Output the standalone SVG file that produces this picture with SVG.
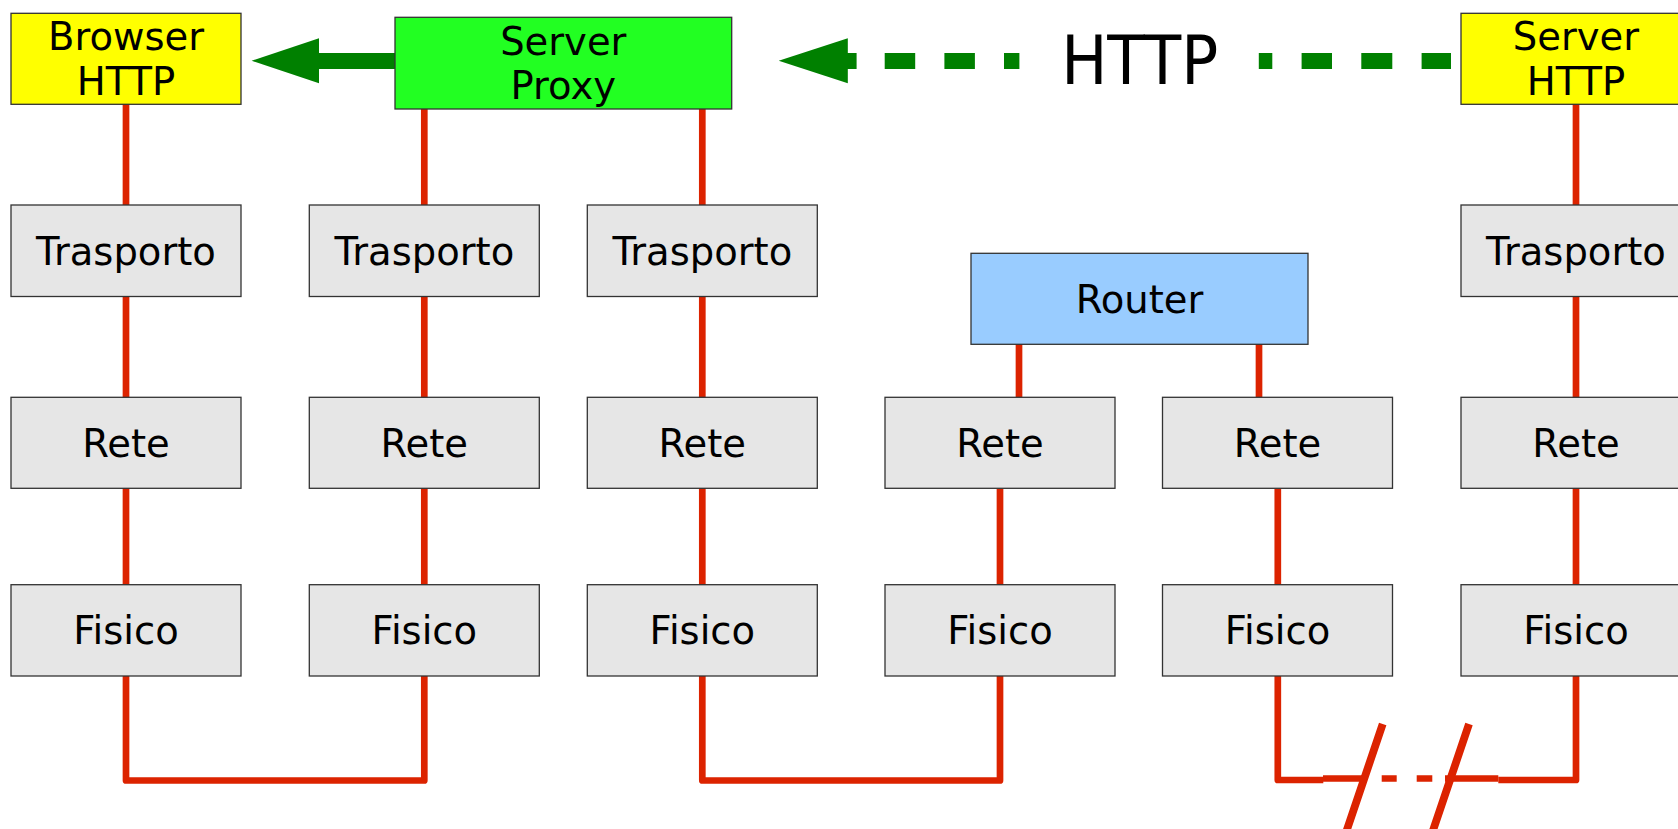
<svg xmlns="http://www.w3.org/2000/svg" width="1678" height="829" viewBox="0 0 1678 829">
<style>
  .box { stroke: #333333; stroke-width: 1.3; }
  .layer { fill: #e6e6e6; }
  .app { fill: #ffff00; }
  .proxy { fill: #22ff22; }
  .router { fill: #99ccff; }
  .lbl { font-family: "DejaVu Sans", "Liberation Sans", sans-serif; font-size: 38.5px; text-anchor: middle; fill: #000000; }
  .wire { fill: none; stroke: #dc2300; stroke-width: 6.7; stroke-linejoin: round; stroke-linecap: butt; }
  .brk { fill: none; stroke: #dc2300; stroke-width: 6.3; stroke-linecap: butt; }
  .slash { fill: none; stroke: #dc2300; stroke-width: 7.8; stroke-linecap: butt; }
  .green { fill: #008000; }
</style>
<rect x="0" y="0" width="1678" height="829" fill="#ffffff"/>

<g id="connectors">
  <path class="wire" d="M126 104 V780.5 H424.3 V109"/>
  <path class="wire" d="M702.3 109 V780.5 H1000 V489"/>
  <path class="wire" d="M1019 344 V397"/>
  <path class="wire" d="M1259 344 V397"/>
  <path class="wire" d="M1323.3 780 H1277.8 V489"/>
  <path class="wire" d="M1498.3 780 H1576 V104"/>
  <path class="brk" d="M1323 778.5 H1363 M1381.7 778.5 H1396.7 M1416.7 778.5 H1432.3 M1445 778.5 H1498.3"/>
  <path class="slash" d="M1382.7 724 L1345.5 834 M1469 724 L1431.8 834"/>
  <!-- solid green arrow: proxy to browser -->
  <rect class="green" x="318" y="53" width="78" height="16"/>
  <polygon class="green" points="251.6,60.7 319,38.3 319,83.3"/>
  <!-- dashed green arrow: server to proxy -->
  <path d="M1451 61 H1421.6 M1392.3 61 H1361.3 M1332 61 H1301.6 M1272.3 61 H1258.8 M1019.4 61 H1004 M974.9 61 H944.4 M915.2 61 H884.7 M856.6 61 H845" fill="none" stroke="#008000" stroke-width="16"/>
  <polygon class="green" points="778.7,60.7 847.8,38.3 847.8,83.3"/>
  <text x="1139.7" y="84" font-family="DejaVu Sans, Liberation Sans, sans-serif" font-size="67" text-anchor="middle" textLength="157" lengthAdjust="spacingAndGlyphs" fill="#000000">HTTP</text>
</g>

<g id="browser">
  <rect class="box app" x="11" y="13.3" width="230" height="91"/>
  <text class="lbl" x="126" y="50">Browser</text>
  <text class="lbl" x="126" y="94.8">HTTP</text>
</g>
<g id="proxy">
  <rect class="box proxy" x="395" y="17.3" width="336.7" height="91.7"/>
  <text class="lbl" x="563.3" y="55">Server</text>
  <text class="lbl" x="563.3" y="99">Proxy</text>
</g>
<g id="server">
  <rect class="box app" x="1461" y="13.3" width="230" height="91"/>
  <text class="lbl" x="1576" y="50">Server</text>
  <text class="lbl" x="1576" y="94.8">HTTP</text>
</g>
<g id="router">
  <rect class="box router" x="971" y="253.3" width="337" height="91"/>
  <text class="lbl" x="1139.5" y="312.5">Router</text>
</g>

<g id="trasporto1"><rect class="box layer" x="11" y="205" width="230" height="91.5"/><text class="lbl" x="126" y="264.8">Trasporto</text></g>
<g id="trasporto2"><rect class="box layer" x="309.3" y="205" width="230" height="91.5"/><text class="lbl" x="424.3" y="264.8">Trasporto</text></g>
<g id="trasporto3"><rect class="box layer" x="587.3" y="205" width="230" height="91.5"/><text class="lbl" x="702.3" y="264.8">Trasporto</text></g>
<g id="trasporto6"><rect class="box layer" x="1461" y="205" width="230" height="91.5"/><text class="lbl" x="1576" y="264.8">Trasporto</text></g>

<g id="rete1"><rect class="box layer" x="11" y="397.3" width="230" height="91"/><text class="lbl" x="126" y="456.8">Rete</text></g>
<g id="rete2"><rect class="box layer" x="309.3" y="397.3" width="230" height="91"/><text class="lbl" x="424.3" y="456.8">Rete</text></g>
<g id="rete3"><rect class="box layer" x="587.3" y="397.3" width="230" height="91"/><text class="lbl" x="702.3" y="456.8">Rete</text></g>
<g id="rete4"><rect class="box layer" x="885" y="397.3" width="230" height="91"/><text class="lbl" x="1000" y="456.8">Rete</text></g>
<g id="rete5"><rect class="box layer" x="1162.5" y="397.3" width="230" height="91"/><text class="lbl" x="1277.5" y="456.8">Rete</text></g>
<g id="rete6"><rect class="box layer" x="1461" y="397.3" width="230" height="91"/><text class="lbl" x="1576" y="456.8">Rete</text></g>

<g id="fisico1"><rect class="box layer" x="11" y="584.7" width="230" height="91.3"/><text class="lbl" x="126" y="644">Fisico</text></g>
<g id="fisico2"><rect class="box layer" x="309.3" y="584.7" width="230" height="91.3"/><text class="lbl" x="424.3" y="644">Fisico</text></g>
<g id="fisico3"><rect class="box layer" x="587.3" y="584.7" width="230" height="91.3"/><text class="lbl" x="702.3" y="644">Fisico</text></g>
<g id="fisico4"><rect class="box layer" x="885" y="584.7" width="230" height="91.3"/><text class="lbl" x="1000" y="644">Fisico</text></g>
<g id="fisico5"><rect class="box layer" x="1162.5" y="584.7" width="230" height="91.3"/><text class="lbl" x="1277.5" y="644">Fisico</text></g>
<g id="fisico6"><rect class="box layer" x="1461" y="584.7" width="230" height="91.3"/><text class="lbl" x="1576" y="644">Fisico</text></g>
</svg>
